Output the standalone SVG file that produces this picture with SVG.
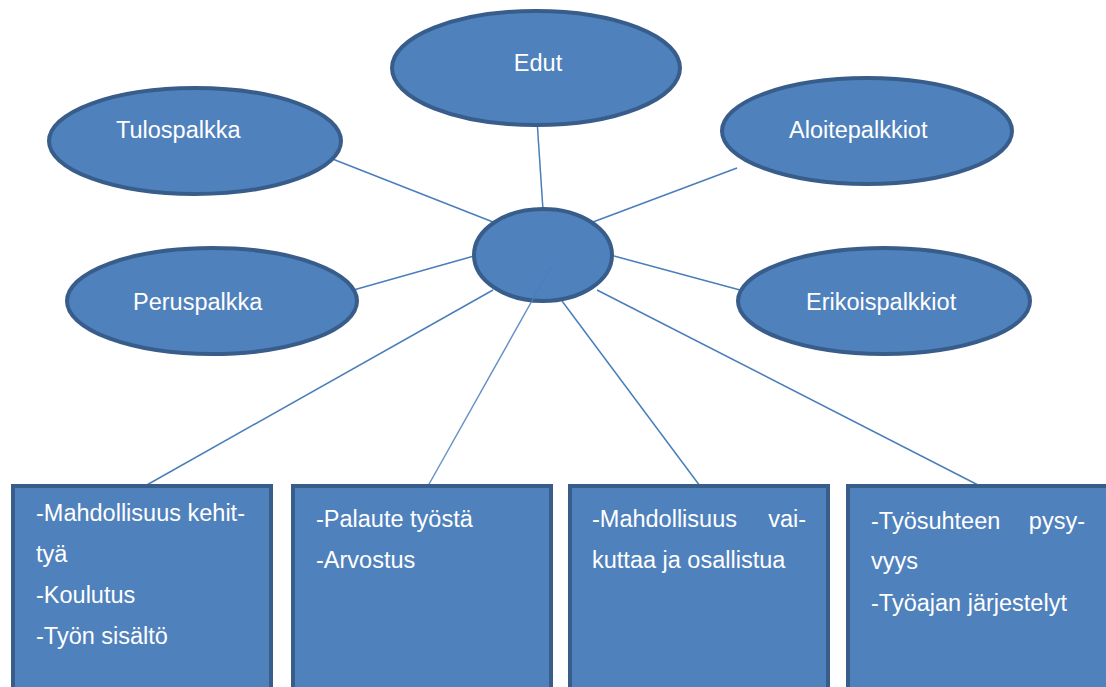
<svg xmlns="http://www.w3.org/2000/svg" width="1106" height="687" viewBox="0 0 1106 687">
<style>
.n{fill:#4f81bd;stroke:#385d8a;stroke-width:4}
.c{stroke:#4a7ebb;stroke-width:1.5;fill:none}
.t{font-family:"Liberation Sans",Arial,sans-serif;font-size:23.5px;fill:#ffffff}
.m{text-anchor:middle}
</style>
<rect width="1106" height="687" fill="#ffffff"/>
<g id="connectors">
<line class="c" x1="537" y1="120" x2="543" y2="210"/>
<line class="c" x1="330" y1="158" x2="493" y2="222"/>
<line class="c" x1="737" y1="168" x2="593" y2="222"/>
<line class="c" x1="318" y1="300" x2="474" y2="256"/>
<line class="c" x1="614" y1="256" x2="740" y2="290"/>
<line class="c" x1="493" y1="290" x2="145" y2="486"/>
<line class="c" x1="562" y1="301" x2="700" y2="486"/>
<line class="c" x1="597" y1="290" x2="980" y2="486"/>
</g>
<g id="edut"><ellipse class="n" cx="536" cy="68" rx="144" ry="57"/><text class="t m" x="538" y="71">Edut</text></g>
<g id="tulospalkka"><ellipse class="n" cx="195" cy="141" rx="146" ry="53"/><text class="t" x="116" y="138">Tulospalkka</text></g>
<g id="aloitepalkkiot"><ellipse class="n" cx="867" cy="131" rx="145" ry="53"/><text class="t" x="789" y="138">Aloitepalkkiot</text></g>
<g id="peruspalkka"><ellipse class="n" cx="212" cy="301" rx="145" ry="53"/><text class="t" x="133" y="310">Peruspalkka</text></g>
<g id="erikoispalkkiot"><ellipse class="n" cx="884" cy="301" rx="146" ry="53"/><text class="t" x="806" y="310">Erikoispalkkiot</text></g>
<g id="center"><ellipse class="n" cx="543" cy="255" rx="69" ry="46"/></g>
<line class="c" x1="551" y1="267" x2="428" y2="486" opacity="0.85"/>
<g id="box1"><rect class="n" x="13" y="486" width="258" height="210"/>
<text class="t" x="36" y="521">-Mahdollisuus kehit-</text>
<text class="t" x="36" y="562">tyä</text>
<text class="t" x="36" y="603">-Koulutus</text>
<text class="t" x="36" y="644">-Työn sisältö</text></g>
<g id="box2"><rect class="n" x="293" y="486" width="258" height="210"/>
<text class="t" x="316" y="527">-Palaute työstä</text>
<text class="t" x="316" y="568">-Arvostus</text></g>
<g id="box3"><rect class="n" x="570" y="486" width="258" height="210"/>
<text class="t" x="592" y="527">-Mahdollisuus</text>
<text class="t" x="806" y="527" text-anchor="end">vai-</text>
<text class="t" x="592" y="568">kuttaa ja osallistua</text></g>
<g id="box4"><rect class="n" x="848" y="486" width="262" height="210"/>
<text class="t" x="871" y="529">-Työsuhteen</text>
<text class="t" x="1085" y="529" text-anchor="end">pysy-</text>
<text class="t" x="871" y="569">vyys</text>
<text class="t" x="871" y="611">-Työajan järjestelyt</text></g>
</svg>
